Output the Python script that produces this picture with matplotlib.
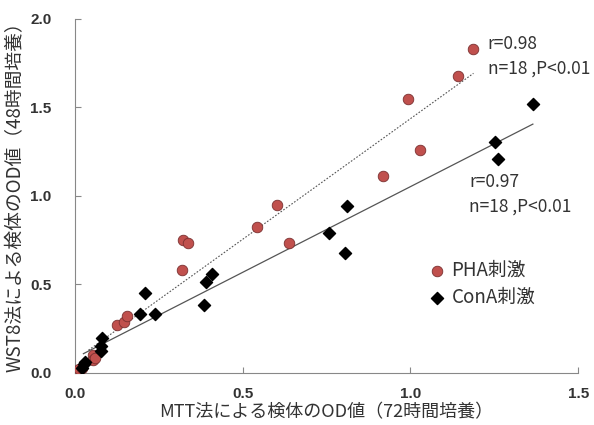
import numpy as np
import matplotlib
matplotlib.use("Agg")
import matplotlib.pyplot as plt

plt.rcParams['font.family'] = ['Noto Sans CJK JP', 'DejaVu Sans']

# PHA stimulation (red circles)
pha_x = [0.012, 0.02, 0.054, 0.055, 0.06, 0.126, 0.146, 0.154, 0.318, 0.323, 0.336,
         0.542, 0.601, 0.639, 0.918, 0.993, 1.03, 1.141, 1.188]
pha_y = [0.02, 0.03, 0.10, 0.075, 0.085, 0.27, 0.29, 0.32, 0.58, 0.75, 0.735,
         0.827, 0.95, 0.735, 1.115, 1.55, 1.26, 1.68, 1.83]
# ConA stimulation (black diamonds)
cona_x = [0.02, 0.027, 0.03, 0.077, 0.077, 0.079, 0.195, 0.209, 0.238, 0.386, 0.391,
          0.408, 0.758, 0.804, 0.811, 1.251, 1.262, 1.365]
cona_y = [0.03, 0.05, 0.064, 0.126, 0.155, 0.20, 0.335, 0.454, 0.335, 0.382, 0.512,
          0.557, 0.793, 0.68, 0.942, 1.305, 1.207, 1.518]

pha_fit = np.polyfit(pha_x, pha_y, 1)
cona_fit = np.polyfit(cona_x, cona_y, 1)

fig = plt.figure(figsize=(5.94, 4.25), dpi=100)
ax = fig.add_axes([0.1263, 0.1224, 0.847, 0.833])

xs = np.array([0.04, max(pha_x)])
ax.plot(xs, np.polyval(pha_fit, xs), color='#555555', lw=0.8, ls=(0, (1.5, 1.5)))
xs = np.array([0.025, max(cona_x)])
ax.plot(xs, np.polyval(cona_fit, xs), color='#555555', lw=0.9)

ax.scatter(pha_x, pha_y, s=58, color='#C0504D', edgecolors='#7a3030', linewidths=0.6,
           zorder=3, label='PHA刺激')
ax.scatter(cona_x, cona_y, s=38, marker='D', color='black', zorder=3, label='ConA刺激')

ax.set_xlim(0, 1.5)
ax.set_ylim(0, 2.0)
ax.set_xticks([0, 0.5, 1.0, 1.5])
ax.set_yticks([0, 0.5, 1.0, 1.5, 2.0])
ax.set_xticklabels(['0.0', '0.5', '1.0', '1.5'])
ax.set_yticklabels(['0.0', '0.5', '1.0', '1.5', '2.0'])
for s in ['top', 'right']:
    ax.spines[s].set_visible(False)
for s in ['left', 'bottom']:
    ax.spines[s].set_color('#888888')
ax.tick_params(direction='in', length=4, color='#888888', labelsize=11,
               labelcolor='#333333')
ax.tick_params(axis='x', pad=10)
ax.tick_params(axis='y', pad=17)
for t in ax.get_xticklabels() + ax.get_yticklabels():
    t.set_fontweight('bold')
    t.set_family(['Liberation Sans', 'DejaVu Sans'])

ax.set_xlabel('MTT法による検体のOD値（72時間培養）', fontsize=13, color='#333333',
              va='center')
ax.set_ylabel('WST8法による検体のOD値（48時間培養）', fontsize=13.5, color='#333333')
ax.xaxis.set_label_coords(0.5, -0.11)
ax.yaxis.set_label_coords(-0.098, 0.51)

ax.text(1.23, 1.86, 'r=0.98', fontsize=12.5, color='#333333', va='center')
ax.text(1.23, 1.72, 'n=18 ,P<0.01', fontsize=12.5, color='#333333', va='center')
ax.text(1.176, 1.08, 'r=0.97', fontsize=12.5, color='#333333', va='center')
ax.text(1.176, 0.94, 'n=18 ,P<0.01', fontsize=12.5, color='#333333', va='center')

ax.legend(loc='upper left', bbox_to_anchor=(0.685, 0.34), frameon=False, fontsize=13.5,
          handlelength=1.0, handletextpad=0.3, labelspacing=0.3, borderaxespad=0,
          labelcolor='#333333')

fig.savefig('out.png', dpi=100)
